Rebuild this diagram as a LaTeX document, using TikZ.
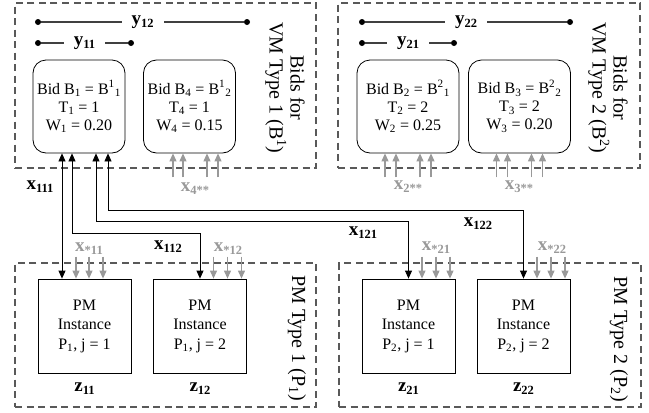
\documentclass[tikz,border=0pt]{standalone}
\usepackage{fontspec}
\setmainfont{Liberation Serif}
\usetikzlibrary{arrows.meta,positioning}
\newcommand{\vsub}[1]{\raisebox{-3pt}{\fontsize{12.5}{12.5}\selectfont #1}}
\tikzset{
  grp/.style={draw=black!65, line width=1.1pt, dash pattern=on 7pt off 4.5pt, inner sep=0pt},
  grplabel/.style={rotate=-90, align=center, font=\fontsize{20}{21}\selectfont},
  bid/.style={draw, rounded corners=13pt, line width=0.8pt, minimum width=92pt, minimum height=93pt, align=center, font=\fontsize{16}{18}\selectfont},
  pm/.style={draw, line width=0.8pt, minimum width=93pt, minimum height=94pt, align=center, font=\fontsize{16}{19.5}\selectfont},
  var/.style={font=\fontsize{19}{19}\selectfont\bfseries, inner sep=1pt},
  gvar/.style={var, text=black!40},
  dot/.style={circle, fill=black, inner sep=0pt, minimum size=6pt},
  yline/.style={draw=black!75, line width=1.1pt},
  link/.style={{Triangle[length=8pt,width=7pt]}-{Triangle[length=8pt,width=7pt]}, line width=0.8pt},
  feed/.style={-{Triangle[length=8pt,width=7pt]}, draw=black!40, line width=1.1pt},
}
\begin{document}
\begin{tikzpicture}[x=1pt, y=-1pt]
\useasboundingbox (0,0) rectangle (649,413);
% dashed groups
\node[grp, minimum width=301pt, minimum height=165pt] (vm1) at (165.5,85.5) {};
\node[grp, minimum width=302pt, minimum height=165pt] (vm2) at (489,85.5) {};
\node[grp, minimum width=301pt, minimum height=144pt] (pm1) at (165.5,335) {};
\node[grp, minimum width=302pt, minimum height=144pt] (pm2) at (490,335) {};
\node[grplabel] (vm1l) at (285,88) {Bids for\\VM Type 1 (B\textsuperscript{1})};
\node[grplabel] (vm2l) at (608,88) {Bids for\\VM Type 2 (B\textsuperscript{2})};
\node[grplabel] (pm1l) at (297,338) {PM Type 1 (P\textsubscript{1})};
\node[grplabel] (pm2l) at (619,339) {PM Type 2 (P\textsubscript{2})};

% bids
\node[bid] (b1) at (79,106.5) {Bid B\textsubscript{1} = B\textsuperscript{1}\textsubscript{1}\\T\textsubscript{1} = 1\\W\textsubscript{1} = 0.20};
\node[bid] (b4) at (189.5,106.5) {Bid B\textsubscript{4} = B\textsuperscript{1}\textsubscript{2}\\T\textsubscript{4} = 1\\W\textsubscript{4} = 0.15};
\node[bid, minimum width=102pt] (b2) at (408,106.5) {Bid B\textsubscript{2} = B\textsuperscript{2}\textsubscript{1}\\T\textsubscript{2} = 2\\W\textsubscript{2} = 0.25};
\node[bid, minimum width=102pt] (b3) at (519.5,106.5) {Bid B\textsubscript{3} = B\textsuperscript{2}\textsubscript{2}\\T\textsubscript{3} = 2\\W\textsubscript{3} = 0.20};

% PM instances
\node[pm] (p11) at (84.5,326) {PM\\Instance\\P\textsubscript{1}, j = 1};
\node[pm] (p12) at (200,326) {PM\\Instance\\P\textsubscript{1}, j = 2};
\node[pm] (p21) at (408.5,326) {PM\\Instance\\P\textsubscript{2}, j = 1};
\node[pm] (p22) at (523.5,326) {PM\\Instance\\P\textsubscript{2}, j = 2};
\node[var, below=8pt of p11] (z11) {z\vsub{11}};
\node[var, below=8pt of p12] (z12) {z\vsub{12}};
\node[var, below=8pt of p21] (z21) {z\vsub{21}};
\node[var, below=8pt of p22] (z22) {z\vsub{22}};

% bundles y
\node[dot] (y12a) at (38,22) {};
\node[dot] (y12b) at (247,22) {};
\node[dot] (y11a) at (38,43) {};
\node[dot] (y11b) at (131,43) {};
\node[dot] (y22a) at (362,22) {};
\node[dot] (y22b) at (570,22) {};
\node[dot] (y21a) at (362,43) {};
\node[dot] (y21b) at (454,43) {};
\draw[yline] (y12a) -- node[var, fill=white, inner xsep=10pt] {y\vsub{12}} (y12b);
\draw[yline] (y11a) -- node[var, fill=white, inner xsep=10pt] {y\vsub{11}} (y11b);
\draw[yline] (y22a) -- node[var, fill=white, inner xsep=10pt] {y\vsub{22}} (y22b);
\draw[yline] (y21a) -- node[var, fill=white, inner xsep=10pt] {y\vsub{21}} (y21b);

% assignments of bid 1
\coordinate (t1) at ([xshift=-17pt]b1.south);
\coordinate (t2) at ([xshift=-7pt]b1.south);
\coordinate (t3) at ([xshift=17pt]b1.south);
\coordinate (t4) at ([xshift=29pt]b1.south);
\draw[link] (t1) -- (t1 |- p11.north);
\draw[link] (t2) |- ([yshift=45pt]p12.north) -- (p12.north);
\draw[link] (t3) |- ([yshift=57pt]p21.north) -- (p21.north);
\draw[link] (t4) |- ([yshift=68pt]p22.north) -- (p22.north);
\node[var] (x111) at (40,187) {x\vsub{111}};
\node[var] (x112) at (168,247) {x\vsub{112}};
\node[var] (x121) at (363,233) {x\vsub{121}};
\node[var] (x122) at (478,224) {x\vsub{122}};

% other assignments
\foreach \d in {-16.5,-6.5,17.5,28.5}
  \draw[feed] ([xshift=\d pt, yshift=-24pt]b4.south) -- ([xshift=\d pt]b4.south);
\foreach \d in {-23,-12,12,23}{
  \draw[feed] ([xshift=\d pt, yshift=-24pt]b2.south) -- ([xshift=\d pt]b2.south);
  \draw[feed] ([xshift=\d pt, yshift=-24pt]b3.south) -- ([xshift=\d pt]b3.south);
}
\foreach \d in {-8.5,4.5,18.5}
  \draw[feed] ([xshift=\d pt, yshift=22pt]p11.north) -- ([xshift=\d pt]p11.north);
\foreach \d in {13.5,27.5,41.5}{
  \draw[feed] ([xshift=\d pt, yshift=22pt]p12.north) -- ([xshift=\d pt]p12.north);
  \draw[feed] ([xshift=\d pt, yshift=22pt]p21.north) -- ([xshift=\d pt]p21.north);
  \draw[feed] ([xshift=\d pt, yshift=22pt]p22.north) -- ([xshift=\d pt]p22.north);
}
\node[gvar] (x4) at (195,189) {x\vsub{4**}};
\node[gvar] (x2) at (408,187) {x\vsub{2**}};
\node[gvar] (x3) at (519,187) {x\vsub{3**}};
\node[gvar] (xs11) at (89,249) {x\vsub{*11}};
\node[gvar] (xs12) at (228,249) {x\vsub{*12}};
\node[gvar] (xs21) at (436,248) {x\vsub{*21}};
\node[gvar] (xs22) at (552,248) {x\vsub{*22}};
\end{tikzpicture}
\end{document}
